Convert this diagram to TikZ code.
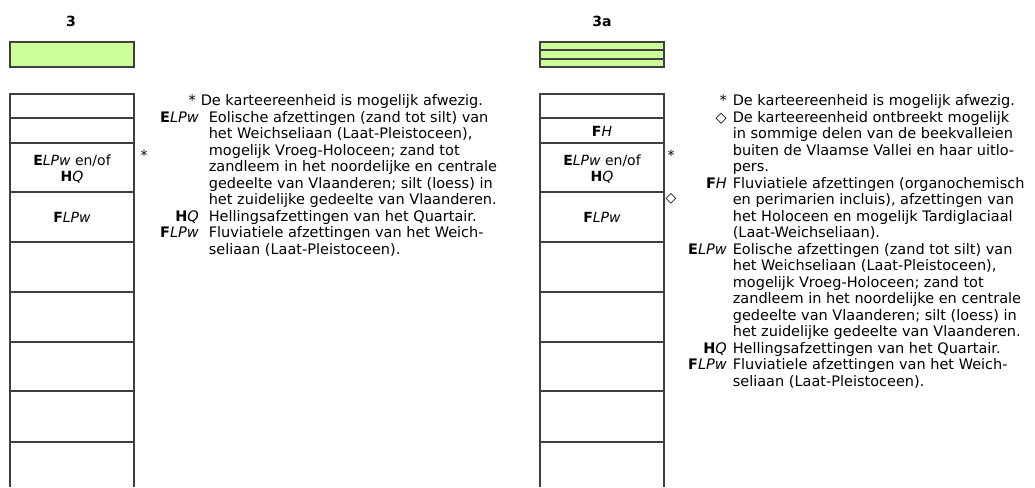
\documentclass[tikz,border=0pt]{standalone}
\usepackage{fontspec}
\setmainfont{DejaVu Sans}
\usepackage{array}
\usepackage{xcolor}

\definecolor{lichtgroen}{RGB}{204,255,153}
\newcommand\ELPw{\textbf{E}\textit{LPw}}
\newcommand\FLPw{\textbf{F}\textit{LPw}}
\newcommand\HQ{\textbf{H}\textit{Q}}
\newcommand\FH{\textbf{F}\textit{H}}

\tikzset{
  kolom/.style={draw=black!75, line width=1.2pt},
  kop/.style={font=\fontsize{14}{16}\selectfont\bfseries},
  laag/.style={align=center, inner sep=0pt, font=\fontsize{14}{16}\selectfont},
  legende/.style={anchor=north west, inner sep=0pt, font=\fontsize{14.5}{16.5}\selectfont},
  teken/.style={inner sep=0pt, font=\fontsize{14}{16}\selectfont}
}

\begin{document}
\begin{tikzpicture}[x=1pt,y=-1pt]
\useasboundingbox (0,0) rectangle (1035,487);

% kolommen
\foreach \x in {10,540}{
  \draw[kolom] (\x,487) -- (\x,94) -- (\x+124,94) -- (\x+124,487);
  \foreach \y in {118,143,192,242,292,342,391,442}
    \draw[kolom] (\x,\y) -- (\x+124,\y);
}
\draw[kolom, fill=lichtgroen] (10,42) rectangle (134,67);
\draw[kolom, fill=lichtgroen] (540,42) rectangle (664,67);
\draw[kolom] (540,50) -- (664,50);
\draw[kolom] (540,59) -- (664,59);

\node[kop](t3) at (71,21){3};
\node[kop](t3a) at (602,21){3a};

\node[laag](l3b) at (72,169){\ELPw{} en/of\\\HQ};
\node[laag](l3c) at (72,217){\FLPw};
\node[laag](r3a) at (602,131){\FH};
\node[laag](r3b) at (602,169){\ELPw{} en/of\\\HQ};
\node[laag](r3c) at (602,217){\FLPw};

\node[teken](s3) at (144,155){*};
\node[teken](s3a) at (671,155){*};
\node[teken](d3a) at (671,199){◇};

% legendes
\node[legende](leg3) at (160,94){\begin{tabular}{@{}r@{\hspace{10pt}}l@{}}
*\hspace*{3pt} & \hspace*{-8pt}De karteereenheid is mogelijk afwezig.\\
\ELPw & Eolische afzettingen (zand tot silt) van\\
 & het Weichseliaan (Laat-Pleistoceen),\\
 & mogelijk Vroeg-Holoceen; zand tot\\
 & zandleem in het noordelijke en centrale\\
 & gedeelte van Vlaanderen; silt (loess) in\\
 & het zuidelijke gedeelte van Vlaanderen.\\
\HQ & Hellingsafzettingen van het Quartair.\\
\FLPw & Fluviatiele afzettingen van het Weich-\\
 & seliaan (Laat-Pleistoceen).
\end{tabular}};

\node[legende](leg3a) at (688,94){\begin{tabular}{@{}r@{\hspace{6pt}}l@{}}
* & De karteereenheid is mogelijk afwezig.\\
◇ & De karteereenheid ontbreekt mogelijk\\
 & in sommige delen van de beekvalleien\\
 & buiten de Vlaamse Vallei en haar uitlo-\\
 & pers.\\
\FH & Fluviatiele afzettingen (organochemisch\\
 & en perimarien incluis), afzettingen van\\
 & het Holoceen en mogelijk Tardiglaciaal\\
 & (Laat-Weichseliaan).\\
\ELPw & Eolische afzettingen (zand tot silt) van\\
 & het Weichseliaan (Laat-Pleistoceen),\\
 & mogelijk Vroeg-Holoceen; zand tot\\
 & zandleem in het noordelijke en centrale\\
 & gedeelte van Vlaanderen; silt (loess) in\\
 & het zuidelijke gedeelte van Vlaanderen.\\
\HQ & Hellingsafzettingen van het Quartair.\\
\FLPw & Fluviatiele afzettingen van het Weich-\\
 & seliaan (Laat-Pleistoceen).
\end{tabular}};
\end{tikzpicture}
\end{document}
